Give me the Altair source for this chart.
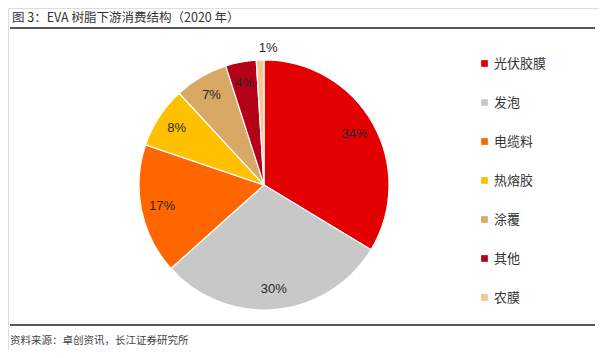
import altair as alt
import pandas as pd

categories = ["光伏胶膜", "发泡", "电缆料", "热熔胶", "涂覆", "其他", "农膜"]
values = [34, 30, 17, 8, 7, 4, 1]
colors = ["#E30000", "#C8C8C8", "#FF6600", "#FFC000", "#D9A865", "#B5001A", "#F7C592"]
title_text = "图 3：EVA 树脂下游消费结构（2020 年）"
source_text = "资料来源：卓创资讯，长江证券研究所"

df = pd.DataFrame({
    "cat": categories,
    "val": values,
    "idx": list(range(len(categories))),
    "label": [f"{v}%" for v in values],
})

W, H = 591, 342
CX, CY, R = 256, 177, 125
FONT = "Liberation Sans"

color = alt.Color(
    "cat:N",
    scale=alt.Scale(domain=categories, range=colors),
    sort=categories,
    legend=alt.Legend(
        title=None, orient="none", legendX=470, legendY=49,
        symbolType="square", symbolSize=45, symbolStrokeWidth=0,
        labelFontSize=13, labelFont="Noto Sans CJK SC", labelColor="#333333",
        rowPadding=25, labelOffset=3,
    ),
)

base = alt.Chart(df).encode(
    theta=alt.Theta("val:Q", stack=True),
    order=alt.Order("idx:Q"),
)

pie = base.mark_arc(outerRadius=R, stroke="white", strokeWidth=1.2).encode(
    color=color, x=alt.value(CX), y=alt.value(CY)
)

labels_in = base.mark_text(radius=104, fontSize=13, font=FONT, color="#262626").encode(
    text="label:N", x=alt.value(CX), y=alt.value(CY)
).transform_filter(alt.datum.val > 2)

labels_out = base.mark_text(radius=137, fontSize=13, font=FONT, color="#262626").encode(
    text="label:N", x=alt.value(CX), y=alt.value(CY)
).transform_filter(alt.datum.val <= 2)

one = pd.DataFrame({"t": [title_text], "s": [source_text]})

title = alt.Chart(one).mark_text(
    align="left", baseline="alphabetic", fontSize=12.5, font="Noto Sans CJK SC", color="#333333"
).encode(text="t:N", x=alt.value(4), y=alt.value(14))

source = alt.Chart(one).mark_text(
    align="left", baseline="alphabetic", fontSize=10.5, font="Noto Sans CJK SC", color="#444444"
).encode(text="s:N", x=alt.value(2), y=alt.value(336))

top_rule = alt.Chart(one).mark_rule(color="#222222", strokeWidth=1.5).encode(
    x=alt.value(2), x2=alt.value(587), y=alt.value(20)
)
bottom_rule = alt.Chart(one).mark_rule(color="#222222", strokeWidth=1.5).encode(
    x=alt.value(2), x2=alt.value(587), y=alt.value(317)
)

chart = alt.layer(pie, labels_in, labels_out, title, source, top_rule, bottom_rule).properties(
    width=W, height=H, autosize=alt.AutoSizeParams(type="none"), padding=0
).configure_view(stroke=None).configure(background="white")

chart.save("out.html", embed_options={"renderer": "svg", "actions": False})
